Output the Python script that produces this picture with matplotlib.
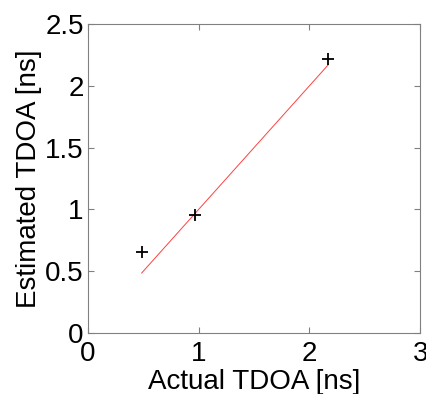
import matplotlib.pyplot as plt

# actual vs estimated time difference of arrival, in ns
actual_tdoa = [0.485, 0.965, 2.17]
estimated_tdoa = [0.655, 0.955, 2.22]

x_ticks = [0, 1, 2, 3]
y_ticks = [0, 0.5, 1, 1.5, 2, 2.5]
y_tick_labels = ['0', '0.5', '1', '1.5', '2', '2.5']

plt.rcParams['font.family'] = ['Liberation Sans', 'DejaVu Sans']

fig = plt.figure(figsize=(4.27, 3.94), dpi=100)
ax = fig.add_axes([0.206, 0.155, 0.778, 0.784])

# ideal estimate line (y = x) over the measured range
ax.plot([actual_tdoa[0], actual_tdoa[-1]], [actual_tdoa[0], actual_tdoa[-1]],
        color='#ff4040', linewidth=0.7)
ax.plot(actual_tdoa, estimated_tdoa, linestyle='none', marker='+',
        ms=9, mew=1.3, color='k')

ax.set_xlim(0, 3)
ax.set_ylim(0, 2.5)
ax.set_xticks(x_ticks)
ax.set_yticks(y_ticks)
ax.set_yticklabels(y_tick_labels)
ax.set_xlabel('Actual TDOA [ns]', fontsize=20, labelpad=1)
ax.set_ylabel('Estimated TDOA [ns]', fontsize=20, labelpad=2)

for s in ax.spines.values():
    s.set_color('#808080')
    s.set_linewidth(0.8)
ax.tick_params(direction='in', length=4, width=0.8, color='#808080',
               labelsize=20, top=True, right=True)
ax.tick_params(axis='x', pad=6)
ax.tick_params(axis='y', pad=3)

fig.savefig('out.png', dpi=100)
